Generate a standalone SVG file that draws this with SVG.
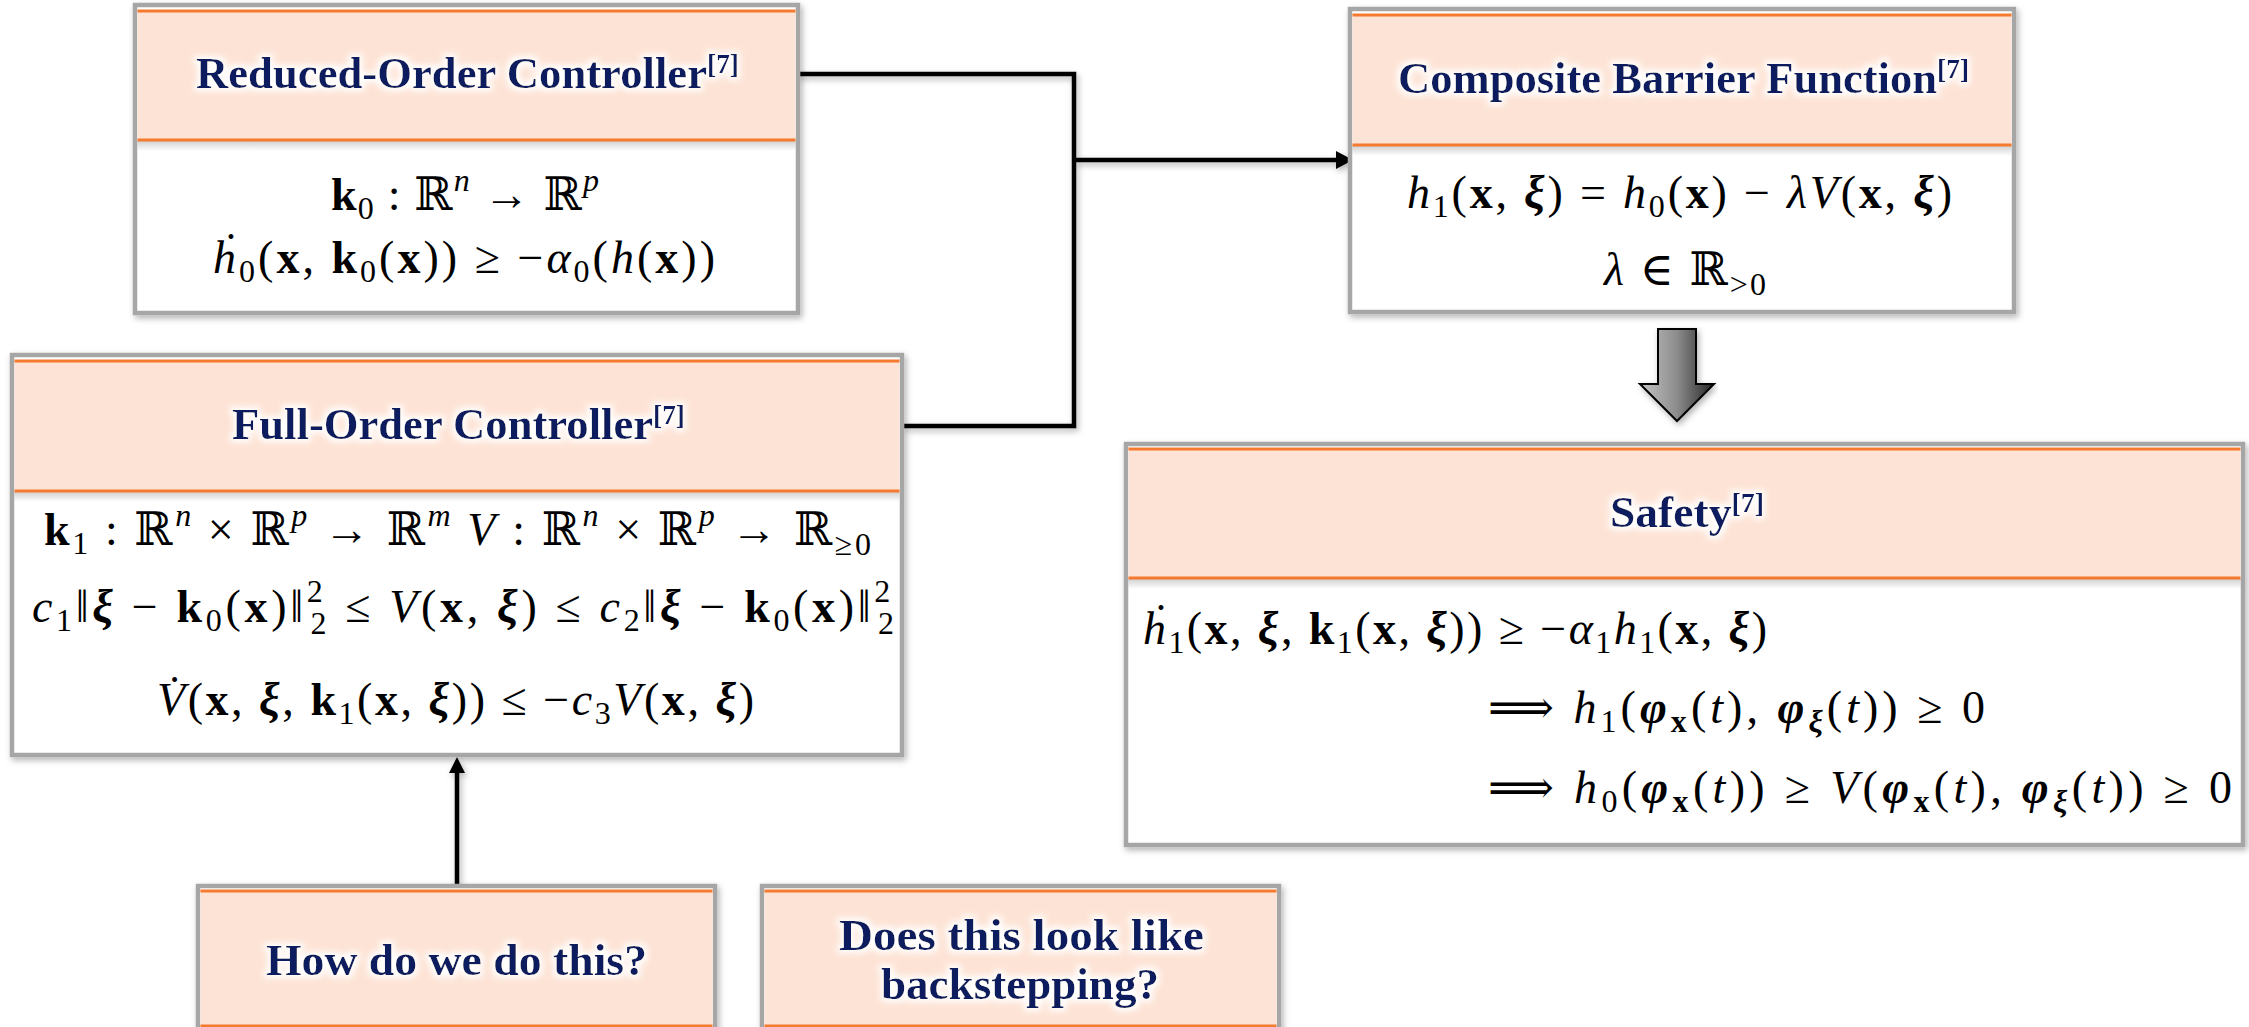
<svg xmlns="http://www.w3.org/2000/svg" width="2249" height="1027" viewBox="0 0 2249 1027">
<style>
.frame{fill:#ffffff;stroke:#a6a6a6;stroke-width:4.5}
.hdr{fill:#fde3d5}
.oline{stroke:#f47b2e;stroke-width:3;fill:none}
.t{font-family:"Liberation Serif","DejaVu Serif",serif;font-weight:bold;font-size:44px;fill:#0c1f5e}
.ref{font-size:27px}
.m{font-family:"Liberation Serif","DejaVu Serif",serif;font-size:46px;fill:#000000}
.b{font-weight:bold}
.i{font-style:italic}
.bi{font-weight:bold;font-style:italic}
.s{font-size:32px}
.conn{stroke:#000000;stroke-width:4.5;fill:none}
.head{fill:#000000}
</style>
<defs>
<filter id="glow" x="-10%" y="-40%" width="120%" height="180%">
<feMorphology in="SourceAlpha" operator="dilate" radius="3" result="d"/>
<feGaussianBlur in="d" stdDeviation="3" result="bl"/>
<feFlood flood-color="#ffffff" result="w"/>
<feComposite in="w" in2="bl" operator="in" result="g"/>
<feMerge><feMergeNode in="g"/><feMergeNode in="SourceGraphic"/></feMerge>
</filter>
<filter id="shadow" x="-5%" y="-5%" width="110%" height="115%">
<feDropShadow dx="2" dy="3" stdDeviation="3" flood-color="#000000" flood-opacity="0.3"/>
</filter>
<linearGradient id="hshade" x1="0" y1="0" x2="0" y2="1">
<stop offset="0" stop-color="#000000" stop-opacity="0.18"/>
<stop offset="1" stop-color="#000000" stop-opacity="0"/>
</linearGradient>
<linearGradient id="bgrad" gradientUnits="userSpaceOnUse" x1="1640" y1="0" x2="1714" y2="0">
<stop offset="0" stop-color="#c4c4c4"/>
<stop offset="0.5" stop-color="#8c8c8c"/>
<stop offset="1" stop-color="#262626"/>
</linearGradient>
</defs>
<rect width="2249" height="1027" fill="#ffffff"/>

<g id="connectors">
<g filter="url(#shadow)">
<path class="conn" d="M 796 74 H 1074 V 426 H 903"/>
<path class="conn" d="M 1074 160 H 1337"/>
<polygon class="head" points="1336,151 1353,160 1336,169"/>
<path class="conn" d="M 457 887 V 770"/>
<polygon class="head" points="449,773 457,757 465,773"/>
</g>
</g>

<g id="reduced-order">
<rect class="frame" x="135" y="5" width="663" height="308" filter="url(#shadow)"/>
<rect class="hdr" x="137.5" y="11" width="658" height="129"/>
<rect x="137.5" y="141" width="658" height="10" fill="url(#hshade)"/>
<line class="oline" x1="137.5" y1="11" x2="795.5" y2="11"/>
<line class="oline" x1="137.5" y1="140" x2="795.5" y2="140"/>
<text class="t" x="196" y="88" textLength="543" lengthAdjust="spacingAndGlyphs" filter="url(#glow)">Reduced-Order Controller<tspan class="ref" dy="-15">[7]</tspan></text>
<text class="m" x="331" y="210" textLength="268"><tspan class="b">k</tspan><tspan class="s" dy="9">0</tspan><tspan dy="-9"> : ℝ</tspan><tspan class="s i" dy="-19">n</tspan><tspan dy="19"> → ℝ</tspan><tspan class="s i" dy="-19">p</tspan></text>
<text class="m" x="213" y="273" textLength="502"><tspan class="i">h&#x307;</tspan><tspan class="s" dy="9">0</tspan><tspan dy="-9">(</tspan><tspan class="b">x</tspan><tspan>, </tspan><tspan class="b">k</tspan><tspan class="s" dy="9">0</tspan><tspan dy="-9">(</tspan><tspan class="b">x</tspan><tspan>)) ≥ −</tspan><tspan class="i">α</tspan><tspan class="s" dy="9">0</tspan><tspan dy="-9">(</tspan><tspan class="i">h</tspan><tspan>(</tspan><tspan class="b">x</tspan><tspan>))</tspan></text>
</g>

<g id="composite-barrier">
<rect class="frame" x="1350" y="9" width="664" height="303" filter="url(#shadow)"/>
<rect class="hdr" x="1352.5" y="15" width="659" height="130"/>
<rect x="1352.5" y="146" width="659" height="10" fill="url(#hshade)"/>
<line class="oline" x1="1352.5" y1="15" x2="2011.5" y2="15"/>
<line class="oline" x1="1352.5" y1="145" x2="2011.5" y2="145"/>
<text class="t" x="1398" y="93" textLength="571" lengthAdjust="spacingAndGlyphs" filter="url(#glow)">Composite Barrier Function<tspan class="ref" dy="-15">[7]</tspan></text>
<text class="m" x="1407" y="208" textLength="545"><tspan class="i">h</tspan><tspan class="s" dy="9">1</tspan><tspan dy="-9">(</tspan><tspan class="b">x</tspan><tspan>, </tspan><tspan class="bi">ξ</tspan><tspan>) = </tspan><tspan class="i">h</tspan><tspan class="s" dy="9">0</tspan><tspan dy="-9">(</tspan><tspan class="b">x</tspan><tspan>) − </tspan><tspan class="i">λV</tspan><tspan>(</tspan><tspan class="b">x</tspan><tspan>, </tspan><tspan class="bi">ξ</tspan><tspan>)</tspan></text>
<text class="m" x="1604" y="285" textLength="162"><tspan class="i">λ</tspan><tspan> ∈ ℝ</tspan><tspan class="s" dy="10">&gt;0</tspan></text>
</g>

<g id="full-order">
<rect class="frame" x="12" y="355" width="890" height="400" filter="url(#shadow)"/>
<rect class="hdr" x="14.5" y="361" width="885" height="130"/>
<rect x="14.5" y="492" width="885" height="10" fill="url(#hshade)"/>
<line class="oline" x1="14.5" y1="361" x2="899.5" y2="361"/>
<line class="oline" x1="14.5" y1="491" x2="899.5" y2="491"/>
<text class="t" x="232" y="439" textLength="453" lengthAdjust="spacingAndGlyphs" filter="url(#glow)">Full-Order Controller<tspan class="ref" dy="-15">[7]</tspan></text>
<text class="m" x="44" y="545" textLength="827"><tspan class="b">k</tspan><tspan class="s" dy="9">1</tspan><tspan dy="-9"> : ℝ</tspan><tspan class="s i" dy="-19">n</tspan><tspan dy="19"> × ℝ</tspan><tspan class="s i" dy="-19">p</tspan><tspan dy="19"> → ℝ</tspan><tspan class="s i" dy="-19">m</tspan><tspan dy="19">  </tspan><tspan class="i">V</tspan><tspan> : ℝ</tspan><tspan class="s i" dy="-19">n</tspan><tspan dy="19"> × ℝ</tspan><tspan class="s i" dy="-19">p</tspan><tspan dy="19"> → ℝ</tspan><tspan class="s" dy="10">≥0</tspan></text>
<text class="m" x="32" y="622" textLength="862"><tspan class="i">c</tspan><tspan class="s" dy="9">1</tspan><tspan dy="-9">‖</tspan><tspan class="bi">ξ</tspan><tspan> − </tspan><tspan class="b">k</tspan><tspan class="s" dy="9">0</tspan><tspan dy="-9">(</tspan><tspan class="b">x</tspan><tspan>)‖</tspan><tspan class="s" dy="-20">2</tspan><tspan class="s" dx="-16" dy="32">2</tspan><tspan dy="-12"> ≤ </tspan><tspan class="i">V</tspan><tspan>(</tspan><tspan class="b">x</tspan><tspan>, </tspan><tspan class="bi">ξ</tspan><tspan>) ≤ </tspan><tspan class="i">c</tspan><tspan class="s" dy="9">2</tspan><tspan dy="-9">‖</tspan><tspan class="bi">ξ</tspan><tspan> − </tspan><tspan class="b">k</tspan><tspan class="s" dy="9">0</tspan><tspan dy="-9">(</tspan><tspan class="b">x</tspan><tspan>)‖</tspan><tspan class="s" dy="-20">2</tspan><tspan class="s" dx="-16" dy="32">2</tspan></text>
<text class="m" x="157" y="715" textLength="597"><tspan class="i">V&#x307;</tspan><tspan>(</tspan><tspan class="b">x</tspan><tspan>, </tspan><tspan class="bi">ξ</tspan><tspan>, </tspan><tspan class="b">k</tspan><tspan class="s" dy="9">1</tspan><tspan dy="-9">(</tspan><tspan class="b">x</tspan><tspan>, </tspan><tspan class="bi">ξ</tspan><tspan>)) ≤ −</tspan><tspan class="i">c</tspan><tspan class="s" dy="9">3</tspan><tspan class="i" dy="-9">V</tspan><tspan>(</tspan><tspan class="b">x</tspan><tspan>, </tspan><tspan class="bi">ξ</tspan><tspan>)</tspan></text>
</g>

<g id="block-arrow">
<polygon points="1658,329 1696,329 1696,384 1714,384 1677,421 1640,384 1658,384" fill="url(#bgrad)" stroke="#000000" stroke-width="2" stroke-linejoin="miter" filter="url(#shadow)"/>
</g>

<g id="safety">
<rect class="frame" x="1126" y="444" width="1117" height="401" filter="url(#shadow)"/>
<rect class="hdr" x="1128.5" y="449" width="1112" height="129"/>
<rect x="1128.5" y="579" width="1112" height="10" fill="url(#hshade)"/>
<line class="oline" x1="1128.5" y1="449" x2="2240.5" y2="449"/>
<line class="oline" x1="1128.5" y1="578" x2="2240.5" y2="578"/>
<text class="t" x="1610" y="527" textLength="154" lengthAdjust="spacingAndGlyphs" filter="url(#glow)">Safety<tspan class="ref" dy="-15">[7]</tspan></text>
<text class="m" x="1143" y="644" textLength="624"><tspan class="i">h&#x307;</tspan><tspan class="s" dy="9">1</tspan><tspan dy="-9">(</tspan><tspan class="b">x</tspan><tspan>, </tspan><tspan class="bi">ξ</tspan><tspan>, </tspan><tspan class="b">k</tspan><tspan class="s" dy="9">1</tspan><tspan dy="-9">(</tspan><tspan class="b">x</tspan><tspan>, </tspan><tspan class="bi">ξ</tspan><tspan>)) ≥ −</tspan><tspan class="i">α</tspan><tspan class="s" dy="9">1</tspan><tspan class="i" dy="-9">h</tspan><tspan class="s" dy="9">1</tspan><tspan dy="-9">(</tspan><tspan class="b">x</tspan><tspan>, </tspan><tspan class="bi">ξ</tspan><tspan>)</tspan></text>
<text class="m" x="1488" y="723" textLength="497"><tspan>⟹  </tspan><tspan class="i">h</tspan><tspan class="s" dy="9">1</tspan><tspan dy="-9">(</tspan><tspan class="bi">φ</tspan><tspan class="s b" dy="9">x</tspan><tspan dy="-9">(</tspan><tspan class="i">t</tspan><tspan>), </tspan><tspan class="bi">φ</tspan><tspan class="s bi" dy="9">ξ</tspan><tspan dy="-9">(</tspan><tspan class="i">t</tspan><tspan>)) ≥ 0</tspan></text>
<text class="m" x="1488" y="803" textLength="744"><tspan>⟹  </tspan><tspan class="i">h</tspan><tspan class="s" dy="9">0</tspan><tspan dy="-9">(</tspan><tspan class="bi">φ</tspan><tspan class="s b" dy="9">x</tspan><tspan dy="-9">(</tspan><tspan class="i">t</tspan><tspan>)) ≥ </tspan><tspan class="i">V</tspan><tspan>(</tspan><tspan class="bi">φ</tspan><tspan class="s b" dy="9">x</tspan><tspan dy="-9">(</tspan><tspan class="i">t</tspan><tspan>), </tspan><tspan class="bi">φ</tspan><tspan class="s bi" dy="9">ξ</tspan><tspan dy="-9">(</tspan><tspan class="i">t</tspan><tspan>)) ≥ 0</tspan></text>
</g>

<g id="how-question">
<rect class="frame" x="198" y="886" width="517" height="170" filter="url(#shadow)"/>
<rect class="hdr" x="200.5" y="891" width="512" height="135"/>
<line class="oline" x1="200.5" y1="891" x2="712.5" y2="891"/>
<line class="oline" x1="200.5" y1="1026" x2="712.5" y2="1026"/>
<text class="t" x="266" y="975" textLength="381" lengthAdjust="spacingAndGlyphs" filter="url(#glow)">How do we do this?</text>
</g>

<g id="backstepping-question">
<rect class="frame" x="762" y="886" width="517" height="170" filter="url(#shadow)"/>
<rect class="hdr" x="764.5" y="891" width="512" height="135"/>
<line class="oline" x1="764.5" y1="891" x2="1276.5" y2="891"/>
<line class="oline" x1="764.5" y1="1026" x2="1276.5" y2="1026"/>
<text class="t" x="839" y="950" textLength="365" lengthAdjust="spacingAndGlyphs" filter="url(#glow)">Does this look like</text>
<text class="t" x="881" y="999" textLength="278" lengthAdjust="spacingAndGlyphs" filter="url(#glow)">backstepping?</text>
</g>
</svg>
